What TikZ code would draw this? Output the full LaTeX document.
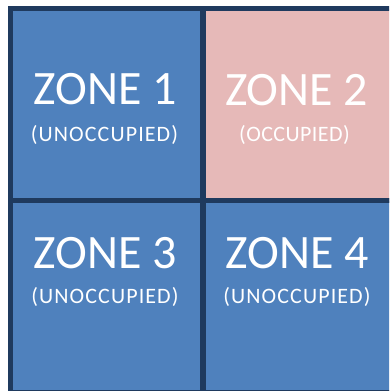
\documentclass[tikz,border=0pt]{standalone}
\usepackage{fontspec}
\setmainfont{Carlito}
\newfontfamily\subfont[LetterSpace=5]{Carlito}
\newfontfamily\subfontb[LetterSpace=2]{Carlito}
\definecolor{zoneblue}{HTML}{4F81BD}
\definecolor{zonepink}{HTML}{E6B9B8}
\definecolor{gridline}{HTML}{1F3A5E}
\begin{document}
\begin{tikzpicture}[x=1pt,y=-1pt,
  zone/.style={rectangle,draw=gridline,line width=5.5pt,minimum width=192.3pt,minimum height=192pt,inner sep=0pt},
  ztitle/.style={anchor=base,text=white,font=\fontsize{48}{48}\selectfont,inner sep=0pt},
  zsub/.style={anchor=base,text=white,font=\subfont\fontsize{22}{22}\selectfont,inner sep=0pt},
  zsubb/.style={anchor=base,text=white,font=\subfontb\fontsize{22}{22}\selectfont,inner sep=0pt}]
\useasboundingbox (0,0) rectangle (389,391);
\fill[white] (0,0) rectangle (389,391);
\begin{scope}
\clip (0,0) rectangle (389,391);
\node[zone,fill=zoneblue] (z1) at (106.65,104.5) {};
\node[zone,fill=zonepink] (z2) at (298.95,104.5) {};
\node[zone,fill=zoneblue] (z3) at (106.65,296.5) {};
\node[zone,fill=zoneblue] (z4) at (298.95,296.5) {};
\end{scope}
\node[ztitle] (t1) at (105,104) {ZONE 1};
\node[zsub] (s1) at (104.5,141) {(UNOCCUPIED)};
\node[ztitle] (t2) at (296.7,105) {ZONE 2};
\node[zsubb] (s2) at (294.5,141) {(OCCUPIED)};
\node[ztitle] (t3) at (105,268) {ZONE 3};
\node[zsub] (s3) at (105,303) {(UNOCCUPIED)};
\node[ztitle] (t4) at (297.5,268) {ZONE 4};
\node[zsub] (s4) at (297,303) {(UNOCCUPIED)};
\end{tikzpicture}
\end{document}
